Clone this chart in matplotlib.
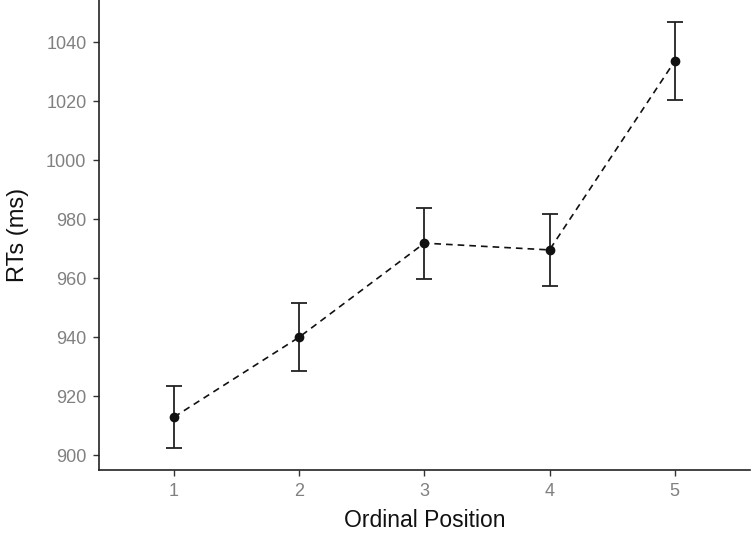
import matplotlib
matplotlib.use("Agg")
import matplotlib.pyplot as plt

positions = [1, 2, 3, 4, 5]
means = [912.9, 940.0, 971.9, 969.6, 1033.6]
lower = [902.4, 928.6, 959.8, 957.4, 1020.3]
upper = [923.5, 951.6, 983.8, 981.8, 1047.0]
yticks = [900, 920, 940, 960, 980, 1000, 1020, 1040]

plt.rcParams['font.family'] = ['Liberation Sans', 'DejaVu Sans']

fig = plt.figure(figsize=(7.52, 5.36), dpi=100)
ax = fig.add_axes([0.1316, 0.123, 0.8654, 0.877])

yerr = [[m - l for m, l in zip(means, lower)], [u - m for m, u in zip(means, upper)]]
ax.errorbar(positions, means, yerr=yerr, fmt='none', ecolor='#222222',
            elinewidth=1.3, capsize=6, capthick=1.3, zorder=2)
ax.plot(positions, means, linestyle=(0, (4, 3)), color='#111111', linewidth=1.2, zorder=3)
ax.scatter(positions, means, s=36, color='#111111', zorder=4)

ax.set_xlim(0.4, 5.6)
ax.set_ylim(894.9, 1054.4)
ax.set_xticks(positions)
ax.set_xticklabels([str(p) for p in positions])
ax.set_yticks(yticks)

for s in ['top', 'right']:
    ax.spines[s].set_visible(False)
for s in ['left', 'bottom']:
    ax.spines[s].set_color('#222222')
    ax.spines[s].set_linewidth(1.2)

ax.tick_params(axis='both', colors='#333333', labelcolor='#808080', labelsize=13,
               length=4, width=1.0)
ax.tick_params(axis='x', pad=5)
ax.tick_params(axis='y', pad=5)
ax.set_xlabel('Ordinal Position', fontsize=16.5, color='#111111', labelpad=7)
ax.set_ylabel('RTs (ms)', fontsize=17, color='#111111', labelpad=12)

fig.savefig('out.png', dpi=100)
